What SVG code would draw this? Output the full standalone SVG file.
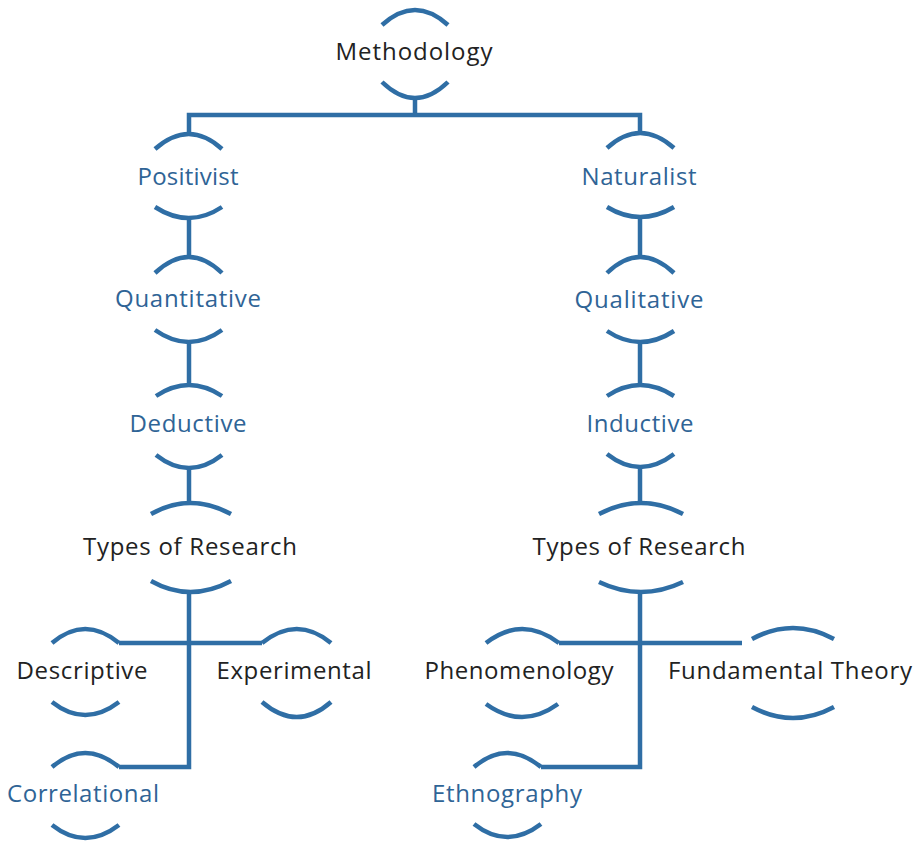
<svg xmlns="http://www.w3.org/2000/svg" width="919" height="843" viewBox="0 0 919 843">
<style>
.arc{fill:none;stroke:#2F6EA5;stroke-width:4.5}
.conn path{fill:none;stroke:#2F6EA5;stroke-width:4.5;stroke-linejoin:miter}
text{font-family:"Open Sans","Liberation Sans",sans-serif;font-size:24px;text-anchor:middle}
.b{fill:#222222}
.u{fill:#2F6496}
</style>
<rect width="919" height="843" fill="#ffffff"/>
<g id="connectors" class="conn">
<path d="M415,98 V115"/>
<path d="M189,134 V115 H640 V133"/>
<path d="M189,218 V257"/>
<path d="M189,342 V385"/>
<path d="M189,468 V503"/>
<path d="M189,592 V767 H119"/>
<path d="M119,643 H262"/>
<path d="M640,217 V257"/>
<path d="M640,342 V385"/>
<path d="M640,467 V503"/>
<path d="M640,592 V767 H541"/>
<path d="M559,643 H742"/>
</g>
<g id="methodology">
<path class="arc" d="M382,25 Q415,-5 448,25"/>
<path class="arc" d="M382,82 Q415,114 448,82"/>
<text class="b" x="414" y="60" textLength="157" lengthAdjust="spacing">Methodology</text>
</g>
<g id="positivist">
<path class="arc" d="M155,149 Q189,119 222,149"/>
<path class="arc" d="M155,207 Q189,229 222,207"/>
<text class="u" x="188" y="185" textLength="101" lengthAdjust="spacing">Positivist</text>
</g>
<g id="quantitative">
<path class="arc" d="M155,273 Q189,241 222,273"/>
<path class="arc" d="M155,330 Q189,354 222,330"/>
<text class="u" x="188" y="307" textLength="146" lengthAdjust="spacing">Quantitative</text>
</g>
<g id="deductive">
<path class="arc" d="M156,396 Q189,374 222,396"/>
<path class="arc" d="M156,455 Q189,481 222,455"/>
<text class="u" x="188" y="432" textLength="117" lengthAdjust="spacing">Deductive</text>
</g>
<g id="types-left">
<path class="arc" d="M151,514 Q190,492 231,514"/>
<path class="arc" d="M151,581 Q190,603 231,581"/>
<text class="b" x="190" y="555" textLength="214" lengthAdjust="spacing">Types of Research</text>
</g>
<g id="naturalist">
<path class="arc" d="M607,148 Q640,118 674,148"/>
<path class="arc" d="M607,207 Q640,227 674,207"/>
<text class="u" x="639" y="185" textLength="115" lengthAdjust="spacing">Naturalist</text>
</g>
<g id="qualitative">
<path class="arc" d="M607,273 Q640,241 674,273"/>
<path class="arc" d="M607,331 Q640,353 674,331"/>
<text class="u" x="639" y="308" textLength="129" lengthAdjust="spacing">Qualitative</text>
</g>
<g id="inductive">
<path class="arc" d="M607,396 Q640,374 674,396"/>
<path class="arc" d="M607,454 Q640,480 674,454"/>
<text class="u" x="640" y="432" textLength="107" lengthAdjust="spacing">Inductive</text>
</g>
<g id="types-right">
<path class="arc" d="M599,514 Q641,492 683,514"/>
<path class="arc" d="M599,582 Q641,602 683,582"/>
<text class="b" x="639" y="555" textLength="213" lengthAdjust="spacing">Types of Research</text>
</g>
<g id="descriptive">
<path class="arc" d="M52,643 Q85,615 119,643"/>
<path class="arc" d="M52,702 Q85,728 119,702"/>
<text class="b" x="82" y="679" textLength="131" lengthAdjust="spacing">Descriptive</text>
</g>
<g id="experimental">
<path class="arc" d="M262,643 Q297,615 331,643"/>
<path class="arc" d="M262,702 Q297,732 331,702"/>
<text class="b" x="294" y="679" textLength="155" lengthAdjust="spacing">Experimental</text>
</g>
<g id="correlational">
<path class="arc" d="M52,767 Q85,739 119,767"/>
<path class="arc" d="M52,825 Q85,851 119,825"/>
<text class="u" x="83" y="802" textLength="152" lengthAdjust="spacing">Correlational</text>
</g>
<g id="phenomenology">
<path class="arc" d="M486,643 Q522,615 559,643"/>
<path class="arc" d="M486,704 Q522,730 558,704"/>
<text class="b" x="519" y="679" textLength="189" lengthAdjust="spacing">Phenomenology</text>
</g>
<g id="fundamental-theory">
<path class="arc" d="M752,639 Q793,617 834,639"/>
<path class="arc" d="M752,707 Q793,729 834,707"/>
<text class="b" x="790" y="679" textLength="244" lengthAdjust="spacing">Fundamental Theory</text>
</g>
<g id="ethnography">
<path class="arc" d="M474,767 Q507,739 541,767"/>
<path class="arc" d="M474,824 Q507,850 541,824"/>
<text class="u" x="507" y="802" textLength="150" lengthAdjust="spacing">Ethnography</text>
</g>
</svg>
